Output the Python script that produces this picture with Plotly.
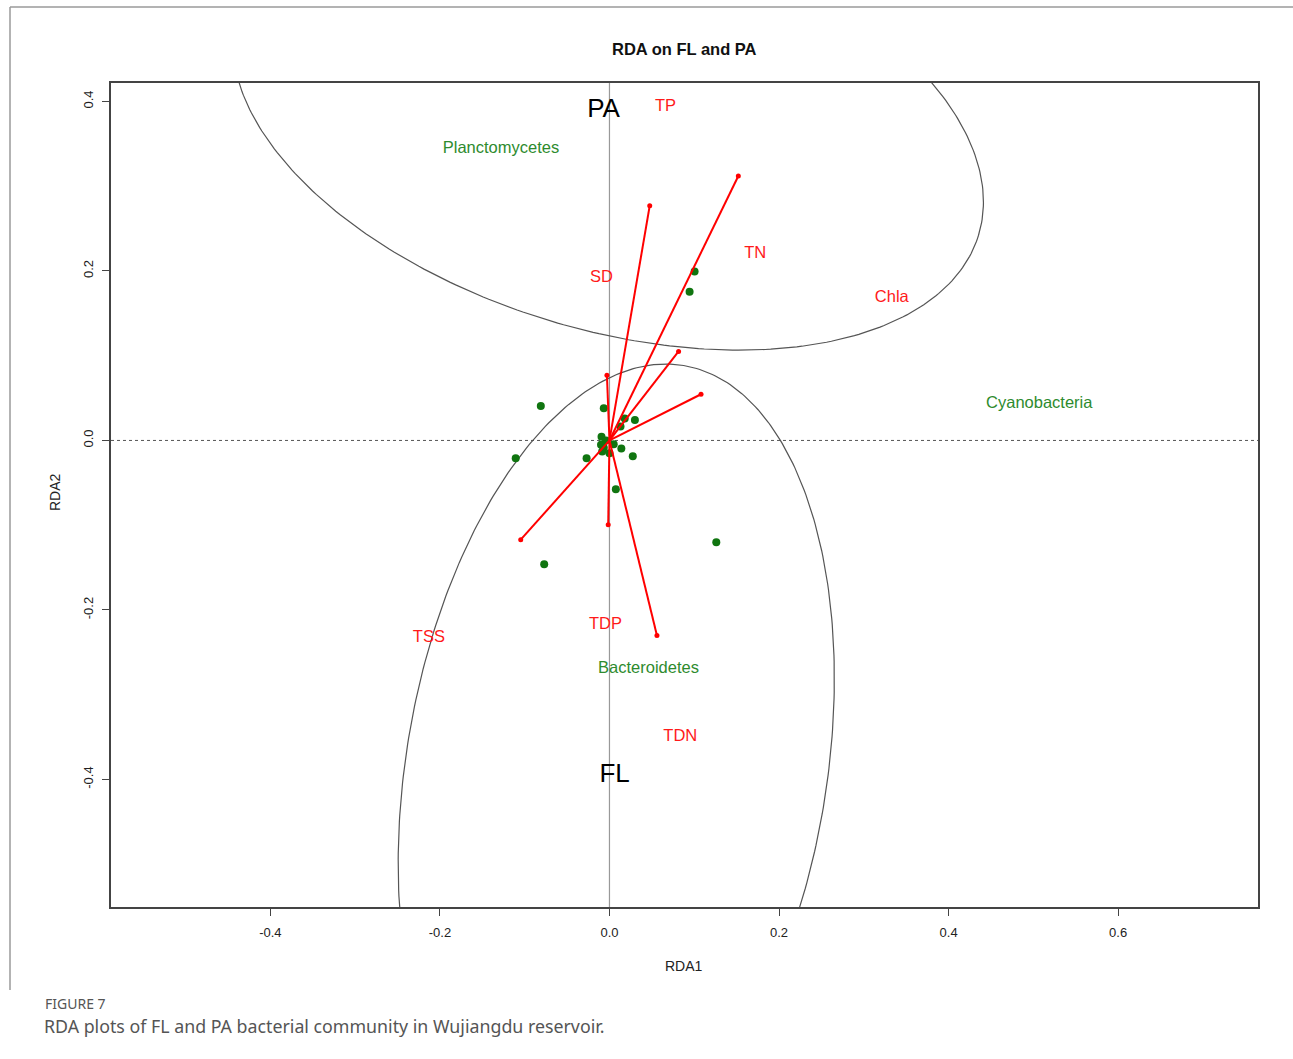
import numpy as np
import plotly.graph_objects as go

# ---- RDA scores ----
# environmental arrow tips (biplot scores)
env_tip_x = [0.0475, 0.152, 0.0815, 0.108, -0.003, -0.0015, -0.1047, 0.056]
env_tip_y = [0.277, 0.312, 0.105, 0.0545, 0.077, -0.0995, -0.117, -0.230]

# environmental variable labels
env_labels = ["TP", "TN", "Chla", "SD", "TSS", "TDP", "TDN"]
env_label_x = [0.066, 0.172, 0.333, -0.0094, -0.213, -0.0047, 0.0835]
env_label_y = [0.393, 0.220, 0.168, 0.192, -0.233, -0.218, -0.350]

# sample scores
site_x = [-0.081, -0.0067, 0.018, 0.030, 0.013, -0.1106, -0.027, 0.0275, 0.014,
          0.0075, 0.126, -0.077, 0.1004, 0.0945, -0.0094, -0.0067, -0.0086,
          0.005, -0.004, 0.0, -0.010]
site_y = [0.0405, 0.038, 0.026, 0.024, 0.0165, -0.021, -0.021, -0.0187, -0.0094,
          -0.0577, -0.120, -0.146, 0.1994, 0.1755, 0.0044, -0.0087, -0.013,
          -0.0044, 0.0, -0.015, -0.005]

# phylum labels
taxa_labels = ["Planctomycetes", "Cyanobacteria", "Bacteroidetes"]
taxa_x = [-0.128, 0.507, 0.046]
taxa_y = [0.344, 0.0436, -0.270]

# group ellipses: centre, semi-axes, rotation (degrees)
group_names = ["PA", "FL"]
group_label_x = [-0.007, 0.006]
group_label_y = [0.389, -0.395]
ell_cx = [-0.0017, 0.008]
ell_cy = [0.3757, -0.39]
ell_a = [0.457, 0.485]
ell_b = [0.2443, 0.248]
ell_angle = [-17.0, 80.56]

x_ticks = [-0.4, -0.2, 0.0, 0.2, 0.4, 0.6]
x_ticktext = ["-0.4", "-0.2", "0.0", "0.2", "0.4", "0.6"]
y_ticks = [-0.4, -0.2, 0.0, 0.2, 0.4]
y_ticktext = ["-0.4", "-0.2", "0.0", "0.2", "0.4"]

X_RANGE = [-0.588, 0.765]
Y_RANGE = [-0.5504, 0.4217]

W, H = 1293, 1059
ML, MR, MT, MB = 111, 35, 83, 152
PW, PH = W - ML - MR, H - MT - MB


def px_x(p):
    return (p - ML) / PW


def px_y(p):
    return (H - MB - p) / PH


fig = go.Figure()

# ellipses
t = np.linspace(0, 2 * np.pi, 400)
for cx, cy, a, b, ang in zip(ell_cx, ell_cy, ell_a, ell_b, ell_angle):
    th = np.deg2rad(ang)
    ex = cx + a * np.cos(t) * np.cos(th) - b * np.sin(t) * np.sin(th)
    ey = cy + a * np.cos(t) * np.sin(th) + b * np.sin(t) * np.cos(th)
    fig.add_trace(go.Scatter(x=ex, y=ey, mode="lines",
                             line=dict(color="#555555", width=1.2),
                             hoverinfo="skip", showlegend=False))

# sample points
fig.add_trace(go.Scatter(x=site_x, y=site_y, mode="markers",
                         marker=dict(color="#107510", size=8),
                         showlegend=False))

# arrows
ax, ay = [], []
for x, y in zip(env_tip_x, env_tip_y):
    ax += [0, x, None]
    ay += [0, y, None]
fig.add_trace(go.Scatter(x=ax, y=ay, mode="lines",
                         line=dict(color="#ff0000", width=2),
                         showlegend=False, hoverinfo="skip"))
fig.add_trace(go.Scatter(x=env_tip_x, y=env_tip_y, mode="markers",
                         marker=dict(color="#ff0000", size=5),
                         showlegend=False))

# text labels
fig.add_trace(go.Scatter(x=env_label_x, y=env_label_y, mode="text", text=env_labels,
                         textfont=dict(color="#ff1a1a", size=16.5, family="Liberation Sans"),
                         showlegend=False))
fig.add_trace(go.Scatter(x=taxa_x, y=taxa_y, mode="text", text=taxa_labels,
                         textfont=dict(color="#2e8b2e", size=16.5, family="Liberation Sans"),
                         showlegend=False))
fig.add_trace(go.Scatter(x=group_label_x, y=group_label_y, mode="text", text=group_names,
                         textfont=dict(color="#000000", size=26, family="Liberation Sans"),
                         showlegend=False))

# reference lines through the origin
fig.add_shape(type="line", xref="x", yref="paper", x0=0, x1=0, y0=0, y1=1,
              line=dict(color="#999999", width=1.2), layer="below")
fig.add_shape(type="line", xref="paper", yref="y", x0=0, x1=1, y0=0, y1=0,
              line=dict(color="#555555", width=1, dash="dot"), layer="below")

# outer frame of the figure panel
fig.add_shape(type="line", xref="paper", yref="paper",
              x0=px_x(10), x1=px_x(W + 5), y0=px_y(7), y1=px_y(7),
              line=dict(color="#9a9a9a", width=1.5))
fig.add_shape(type="line", xref="paper", yref="paper",
              x0=px_x(10), x1=px_x(10), y0=px_y(7), y1=px_y(990),
              line=dict(color="#9a9a9a", width=1.5))

axis_common = dict(showgrid=False, zeroline=False, showline=True, mirror=True,
                   linecolor="#444444", linewidth=1.5, ticks="outside", ticklen=7,
                   tickcolor="#444444", tickwidth=1,
                   tickfont=dict(family="Liberation Sans", size=13, color="#222222"))

fig.update_xaxes(range=X_RANGE, tickvals=x_ticks, ticktext=x_ticktext,
                 ticklabelstandoff=6, **axis_common)
fig.update_yaxes(range=Y_RANGE, tickvals=y_ticks, ticktext=y_ticktext,
                 tickangle=-90, ticklabelstandoff=4, **axis_common)


def note(text, x, y, size, family="Liberation Sans", color="#222222",
         xanchor="center", angle=0):
    return dict(text=text, x=px_x(x), y=px_y(y), xref="paper", yref="paper",
                showarrow=False, xanchor=xanchor, yanchor="middle", textangle=angle,
                font=dict(family=family, size=size, color=color))


annotations = [
    note("<b>RDA on FL and PA</b>", 684, 49, 16.5, color="#111111"),
    note("RDA1", 684, 966, 14),
    note("RDA2", 55, 492, 14, angle=-90),
    note("FIGURE 7", 43, 1003, 14, family="Noto Sans", color="#555555", xanchor="left"),
    note("RDA plots of FL and PA bacterial community in Wujiangdu reservoir.",
         42, 1026, 17.8, family="Noto Sans", color="#555555", xanchor="left"),
]

fig.update_layout(width=W, height=H, margin=dict(l=ML, r=MR, t=MT, b=MB),
                  plot_bgcolor="white", paper_bgcolor="white",
                  annotations=annotations, showlegend=False)

fig.write_html("out.html")
